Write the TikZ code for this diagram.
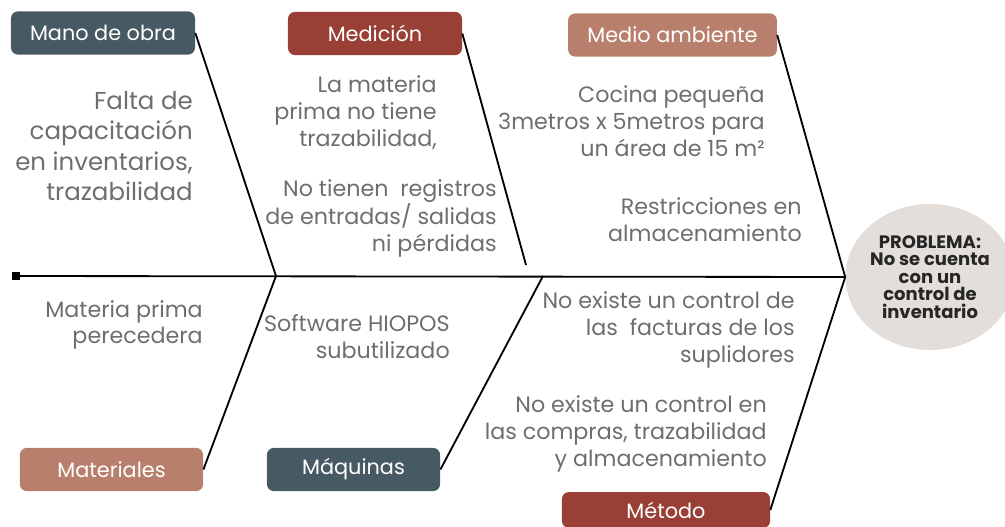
\documentclass[tikz,border=0pt]{standalone}
\usepackage{fontspec}
\setmainfont{Poppins}
\usetikzlibrary{positioning}
\usetikzlibrary{shapes.geometric}
\definecolor{slate}{HTML}{475A63}
\definecolor{brick}{HTML}{993F35}
\definecolor{clay}{HTML}{B8806C}
\definecolor{stone}{HTML}{E3DED9}
\definecolor{txtgray}{HTML}{6E6E6E}
\tikzstyle{cat}=[rounded corners=5pt,text=white,minimum height=1.08cm,inner sep=0pt,font=\fontsize{14.8}{16}\selectfont]
\tikzstyle{cause}=[text=txtgray,align=right,anchor=east,inner sep=0pt,font=\fontsize{15.8}{19}\selectfont]
\tikzstyle{bone}=[line width=1.3pt,line join=miter]

\begin{document}
\begin{tikzpicture}[x=0.025cm,y=-0.025cm]
\useasboundingbox (0,0) rectangle (1005,526);
    \node [cat,fill=slate,minimum width=4.6cm] (mano) at (103,33) {Mano de obra};
    \node [cat,fill=brick,minimum width=4.35cm] (medicion) at (375,33.5) {Medición};
    \node [cat,fill=clay,minimum width=5.22cm] (medio) at (672.5,35) {Medio ambiente};
    \node [cat,fill=clay,minimum width=4.58cm] (materiales) at (111.5,469.5) {Materiales};
    \node [cat,fill=slate,minimum width=4.33cm] (maquinas) at (353.5,469.5) {Máquinas};
    \node [cat,fill=brick,minimum width=5.2cm,minimum height=0.9cm] (metodo) at (666,510) {Método};

    \node [ellipse,fill=stone,minimum width=4.15cm,minimum height=3.65cm,inner sep=0pt,
           align=center,text=black!85,font=\bfseries\fontsize{12.8}{12.4}\selectfont] (prob) at (930,277)
           {PROBLEMA:\\No se cuenta\\con un\\control de\\inventario};

    \node [fill=black,minimum size=0.18cm,inner sep=0pt] (tail) at (16,276) {};
    \coordinate (j1) at (276,276);
    \coordinate (j2) at (543,276);
    \coordinate (m1) at (526,265);

    \draw [bone] (tail.center) -- (prob.west);
    \draw [bone] (mano.east) -- (j1) -- (materiales.east);
    \draw [bone] (medicion.east) -- (m1);
    \draw [bone] (maquinas.east) -- (j2);
    \draw [bone] (medio.east) -- (prob.west) -- (metodo.east);

    \node [cause,font=\fontsize{17.4}{21.5}\selectfont] (falta) at (193,146) {Falta de\\capacitación\\en inventarios,\\trazabilidad};
    \node [cause] (materia) at (437,112.5) {La materia\\prima no tiene\\trazabilidad,};
    \node [cause] (registros) at (497,218.5) {No tienen\ \ registros\\de entradas/ salidas\\ni pérdidas};
    \node [cause] (cocina) at (765,121) {Cocina pequeña\\3metros x 5metros para\\un área de 15 m²};
    \node [cause] (restric) at (802,220) {Restricciones en\\almacenamiento};
    \node [cause] (perecedera) at (203,325) {Materia prima\\perecedera};
    \node [cause] (software) at (450,336.5) {Software HIOPOS\\subutilizado};
    \node [cause] (facturas) at (795,330) {No existe un control de\\las\ \ facturas de los\\suplidores};
    \node [cause] (compras) at (767,434) {No existe un control en\\las compras, trazabilidad\\y almacenamiento};
\end{tikzpicture}
\end{document}
